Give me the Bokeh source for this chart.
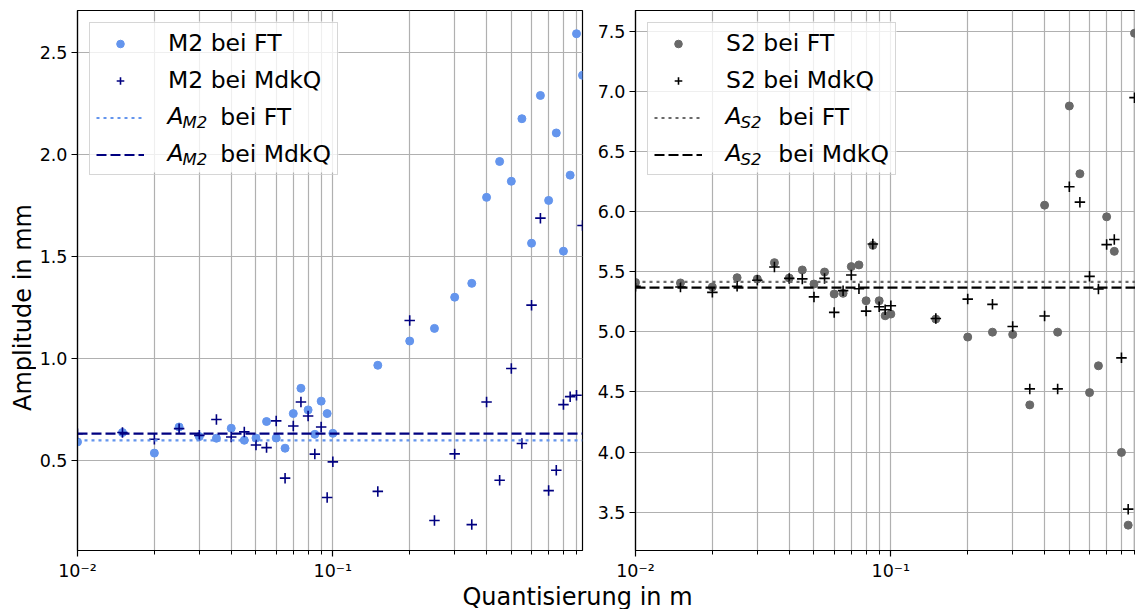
import math
from bokeh.plotting import figure
from bokeh.layouts import row, column
from bokeh.models import (Range1d, FixedTicker, SingleIntervalTicker, NumeralTickFormatter,
                          CustomJSTickFormatter, Legend, LegendItem, Label, BoxAnnotation)
from bokeh.embed import file_html
from bokeh.resources import INLINE

# ---------------- data ----------------
quantisierung = [0.01, 0.015, 0.02, 0.025, 0.03, 0.035, 0.04, 0.045, 0.05, 0.055,
                 0.06, 0.065, 0.07, 0.075, 0.08, 0.085, 0.09, 0.095, 0.1,
                 0.15, 0.2, 0.25, 0.3, 0.35, 0.4, 0.45, 0.5, 0.55, 0.6, 0.65,
                 0.7, 0.75, 0.8, 0.85, 0.9, 0.95]

m2_ft = [0.59, 0.636, 0.535, 0.663, 0.616, 0.608, 0.657, 0.598, 0.609, 0.69,
         0.609, 0.559, 0.729, 0.853, 0.747, 0.627, 0.79, 0.729, 0.632,
         0.966, 1.085, 1.147, 1.30, 1.368, 1.79, 1.966, 1.869, 2.176, 1.565, 2.29,
         1.775, 2.106, 1.526, 1.899, 2.593, 2.389]

m2_mdkq = [0.63, 0.636, 0.603, 0.655, 0.622, 0.70, 0.614, 0.639, 0.575, 0.562,
           0.693, 0.412, 0.668, 0.786, 0.717, 0.53, 0.663, 0.317, 0.492,
           0.347, 1.186, 0.204, 0.531, 0.184, 0.786, 0.402, 0.95, 0.582, 1.261, 1.688,
           0.351, 0.451, 0.773, 0.812, 0.819, 1.652]

quantisierung_s2 = quantisierung[:35]

s2_ft = [5.41, 5.406, 5.373, 5.45, 5.439, 5.575, 5.447, 5.514, 5.397, 5.497,
         5.314, 5.32, 5.542, 5.556, 5.258, 5.719, 5.258, 5.133, 5.147,
         5.106, 4.956, 4.997, 4.978, 4.392, 6.053, 4.997, 6.878, 6.314, 4.494, 4.717,
         5.956, 5.669, 3.997, 3.392, 7.483]

s2_mdkq = [5.378, 5.373, 5.328, 5.378, 5.428, 5.539, 5.444, 5.44, 5.29, 5.444,
           5.161, 5.342, 5.472, 5.358, 5.172, 5.73, 5.208, 5.183, 5.217,
           5.111, 5.272, 5.228, 5.044, 4.525, 5.131, 4.525, 6.206, 6.078, 5.461, 5.356,
           5.725, 5.767, 4.783, 3.525, 6.947]

a_m2_ft = 0.597
a_m2_mdkq = 0.631
a_s2_ft = 5.415
a_s2_mdkq = 5.368

x_major_ticks = [0.01, 0.1]
x_minor_ticks = [0.02, 0.03, 0.04, 0.05, 0.06, 0.07, 0.08, 0.09,
                 0.2, 0.3, 0.4, 0.5, 0.6, 0.7, 0.8, 0.9]

FONT = "DejaVu Sans"
GRID = "#b0b0b0"
TOP_H = 583
LABEL_W = 36
FRAME_H = 541


def make_panel(width, border_left, border_right, x_end, y_start, y_end):
    p = figure(width=width, height=TOP_H, x_axis_type="log",
               x_range=Range1d(0.01, x_end), y_range=Range1d(y_start, y_end),
               output_backend="svg", toolbar_location=None,
               min_border_left=border_left, min_border_right=border_right,
               min_border_top=10, min_border_bottom=32)
    p.background_fill_color = "white"
    p.border_fill_color = "white"
    p.outline_line_color = "black"
    p.outline_line_width = 1.2
    p.outline_line_alpha = 1.0

    p.xaxis.ticker = FixedTicker(ticks=x_major_ticks, minor_ticks=x_minor_ticks)
    p.xaxis.formatter = CustomJSTickFormatter(code="""
        const sup = {'-': '\u207b', '0': '\u2070', '1': '\u00b9', '2': '\u00b2', '3': '\u00b3'};
        const e = String(Math.round(Math.log10(tick)));
        let s = '';
        for (const c of e) { s += sup[c]; }
        return '10' + s;
    """)
    p.yaxis.ticker = SingleIntervalTicker(interval=0.5, num_minor_ticks=0)
    p.yaxis.formatter = NumeralTickFormatter(format="0.0")

    for ax in (p.xaxis[0], p.yaxis[0]):
        ax.axis_line_color = "black"
        ax.axis_line_width = 1.2
        ax.major_tick_line_color = "black"
        ax.major_tick_line_width = 1.2
        ax.major_tick_out = 6
        ax.major_tick_in = 0
        ax.minor_tick_in = 0
        ax.major_label_text_font = FONT
        ax.major_label_text_font_size = "17.5px"
        ax.major_label_text_color = "black"
        ax.major_label_standoff = 4
    p.xaxis.minor_tick_line_color = "black"
    p.xaxis.minor_tick_line_width = 1.0
    p.xaxis.minor_tick_out = 4
    p.yaxis.minor_tick_line_color = None

    p.xgrid.grid_line_color = GRID
    p.xgrid.grid_line_width = 1.2
    p.xgrid.minor_grid_line_color = GRID
    p.xgrid.minor_grid_line_width = 1.2
    p.ygrid.grid_line_color = GRID
    p.ygrid.grid_line_width = 1.2
    return p


def add_series(p, xs, ft, mdkq, a_ft, a_mdkq, c_ft, c_mdkq, name):
    # translucent legend background (drawn under the legend texts)
    p.add_layout(BoxAnnotation(left=12, right=261, top=FRAME_H - 12, bottom=FRAME_H - 163,
                               left_units="screen", right_units="screen",
                               top_units="screen", bottom_units="screen",
                               fill_color="white", fill_alpha=0.8, line_color=None,
                               level="underlay"))
    r1 = p.scatter(xs, ft, marker="circle", size=8, fill_color=c_ft, line_color=c_ft)
    r2 = p.scatter(xs, mdkq, marker="cross", size=10.5, line_color=c_mdkq, line_width=1.6)
    r3 = p.line([xs[0], quantisierung[-1]], [a_ft, a_ft], line_color=c_ft,
                line_dash="3 4", line_width=2.2)
    r4 = p.line([xs[0], quantisierung[-1]], [a_mdkq, a_mdkq], line_color=c_mdkq,
                line_dash="10 4", line_width=2.2)
    gap = "\u00a0" * 7
    legend = Legend(items=[
        LegendItem(label=f"{name} bei FT", renderers=[r1]),
        LegendItem(label=f"{name} bei MdkQ", renderers=[r2]),
        LegendItem(label=gap + "bei FT", renderers=[r3]),
        LegendItem(label=gap + "bei MdkQ", renderers=[r4]),
    ], location="top_left", margin=12, padding=6, spacing=9,
        glyph_width=48, glyph_height=19, label_height=27, label_standoff=24,
        label_text_font=FONT, label_text_font_size="23.5px", label_text_color="black",
        border_line_color="#cccccc", border_line_alpha=0.8, border_line_width=1.2,
        background_fill_color="white", background_fill_alpha=0.0)
    p.add_layout(legend)
    # italic A with subscript for the two reference-line entries
    frame_bottom = 551
    for row_idx in (2, 3):
        cy = 22 + 6 + row_idx * 37 + 14
        yy = frame_bottom - cy
        p.add_layout(Label(x=90, y=yy, x_units="screen", y_units="screen", text="A",
                           text_font=FONT, text_font_style="italic", text_font_size="23.5px",
                           text_color="black", text_align="left", text_baseline="middle",
                           level="overlay"))
        p.add_layout(Label(x=105, y=yy - 7, x_units="screen", y_units="screen", text=name,
                           text_font=FONT, text_font_style="italic", text_font_size="16.5px",
                           text_color="black", text_align="left", text_baseline="middle",
                           level="overlay"))


# y label strip
p0 = figure(width=LABEL_W, height=TOP_H, x_range=Range1d(0, 1), y_range=Range1d(0, 1),
            output_backend="svg", toolbar_location=None, min_border=0,
            x_axis_location=None, y_axis_location=None)
p0.grid.visible = False
p0.outline_line_color = None
p0.background_fill_color = "white"
p0.border_fill_color = "white"
p0.add_layout(Label(x=22, y=TOP_H - 340, x_units="screen", y_units="screen",
                    text="Amplitude in mm", angle=math.pi / 2,
                    text_font=FONT, text_font_size="24px", text_color="black",
                    text_align="center", text_baseline="middle"))

# left panel: frame 77..582
p1 = make_panel(590 - LABEL_W, 77 - LABEL_W, 8, 0.95, 0.057, 2.707)
add_series(p1, quantisierung, m2_ft, m2_mdkq, a_m2_ft, a_m2_mdkq,
           "#6495ED", "#000080", "M2")

# right panel: frame 635..1135
p2 = make_panel(545, 45, 0, 0.908, 3.181, 7.672)
add_series(p2, quantisierung_s2, s2_ft, s2_mdkq, a_s2_ft, a_s2_mdkq,
           "#696969", "#000000", "S2")

# shared x label
p3 = figure(width=1135, height=609 - TOP_H, x_range=Range1d(0, 1), y_range=Range1d(0, 1),
            output_backend="svg", toolbar_location=None, min_border=0,
            x_axis_location=None, y_axis_location=None)
p3.grid.visible = False
p3.outline_line_color = None
p3.background_fill_color = "white"
p3.border_fill_color = "white"
p3.add_layout(Label(x=577, y=13, x_units="screen", y_units="screen",
                    text="Quantisierung in m", text_font=FONT, text_font_size="24px",
                    text_color="black", text_align="center", text_baseline="middle"))

layout = column(row(p0, p1, p2), p3)
open("out.html", "w").write(file_html(layout, INLINE))
